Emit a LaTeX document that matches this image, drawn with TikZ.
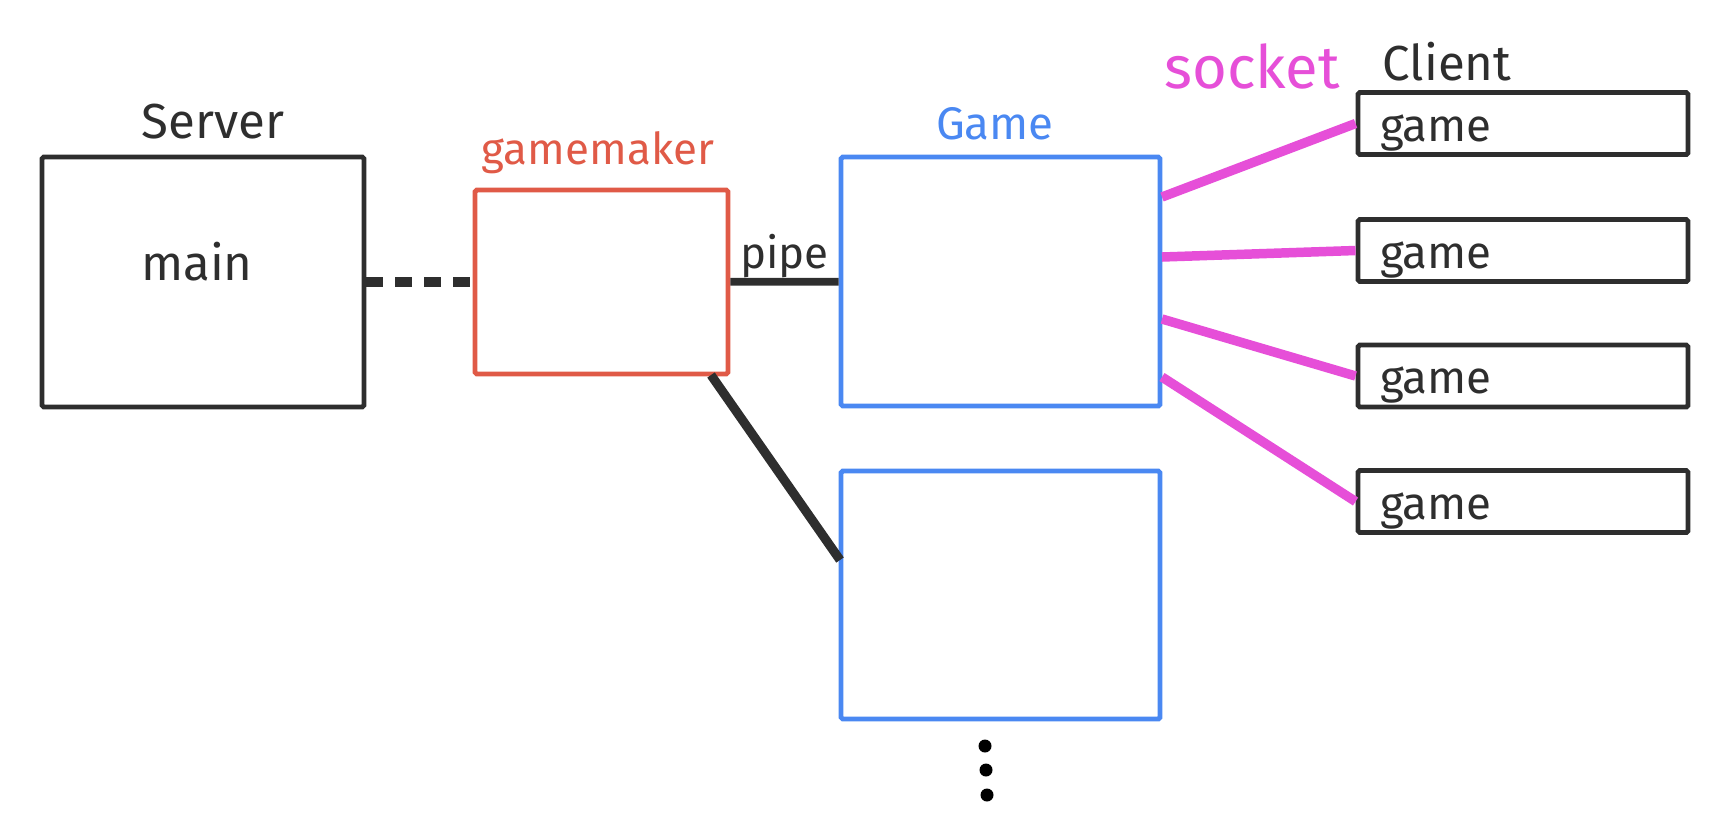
\documentclass[tikz,border=0pt]{standalone}
\usepackage{fontspec}
\setmainfont{Fira Sans}
\definecolor{pencil}{HTML}{2E2E2E}
\definecolor{makerred}{HTML}{E05A47}
\definecolor{gameblue}{HTML}{4A88F2}
\definecolor{sockpink}{HTML}{E64FD8}
\tikzstyle{box}=[rectangle, draw=pencil, line width=1.4pt, rounded corners=0.5pt]
\tikzstyle{clientbox}=[box, minimum height=0.62cm, text width=2.86cm, inner xsep=0.22cm, text height=0.35cm, text depth=0pt, align=left, text=pencil, font=\fontsize{13}{15}\selectfont]
\tikzstyle{title}=[text=pencil, font=\fontsize{14}{17}\selectfont]
\tikzstyle{link}=[line width=2.6pt, pencil]
\tikzstyle{socketline}=[line width=2.7pt, sockpink]
\tikzstyle{dot}=[circle, fill=black, inner sep=0pt, minimum size=1.3mm]

\begin{document}
\begin{tikzpicture}[]
\useasboundingbox (0,0) rectangle (17.15,-8.25);

\node (server) at (2.03,-2.82) [box, minimum width=3.22cm, minimum height=2.50cm] {};
\node (serverlbl) at (2.13,-1.22) [title] {Server};
\node (main) at (1.97,-2.62) [title] {main};

\node (gm) at (6.015,-2.82) [box, draw=makerred, minimum width=2.53cm, minimum height=1.84cm] {};
\node (gmlbl) at (5.98,-1.53) [title, text=makerred, font=\fontsize{12.5}{15}\selectfont] {gamemaker};

\node (game1) at (10.005,-2.815) [box, draw=gameblue, minimum width=3.19cm, minimum height=2.49cm] {};
\node (game2) at (10.005,-5.95) [box, draw=gameblue, minimum width=3.19cm, minimum height=2.48cm] {};
\node (gamelbl) at (9.95,-1.24) [title, text=gameblue, font=\fontsize{13}{16}\selectfont] {Game};

\node (c1) at (15.23,-1.235) [clientbox] {game};
\node (c2) at (15.23,-2.505) [clientbox] {game};
\node (c3) at (15.23,-3.76) [clientbox] {game};
\node (c4) at (15.23,-5.015) [clientbox] {game};
\node (clientlbl) at (14.47,-0.62) [title] {Client};
\node (socketlbl) at (12.52,-0.66) [title, text=sockpink, font=\fontsize{17}{20}\selectfont] {socket};

\node (d1) at (9.85,-7.46) [dot] {};
\node (d2) at (9.86,-7.70) [dot] {};
\node (d3) at (9.87,-7.95) [dot] {};

\coordinate (s1) at (11.62,-1.97);
\coordinate (s2) at (11.62,-2.57);
\coordinate (s3) at (11.62,-3.19);
\coordinate (s4) at (11.62,-3.77);
\coordinate (gmfoot) at (7.11,-3.75);
\coordinate (game2side) at (8.40,-5.60);

\draw[link, dash pattern=on 0.17cm off 0.12cm] (server) -- (gm);
\draw[link, line width=2.2pt] (gm) -- (game1) node [midway, above=-1.2mm, title, font=\fontsize{12.5}{15}\selectfont] {pipe};
\draw[link] (gmfoot) -- (game2side);

\draw[socketline] (s1) -- (c1.west);
\draw[socketline] (s2) -- (c2.west);
\draw[socketline] (s3) -- (c3.west);
\draw[socketline] (s4) -- (c4.west);

\end{tikzpicture}
\end{document}
